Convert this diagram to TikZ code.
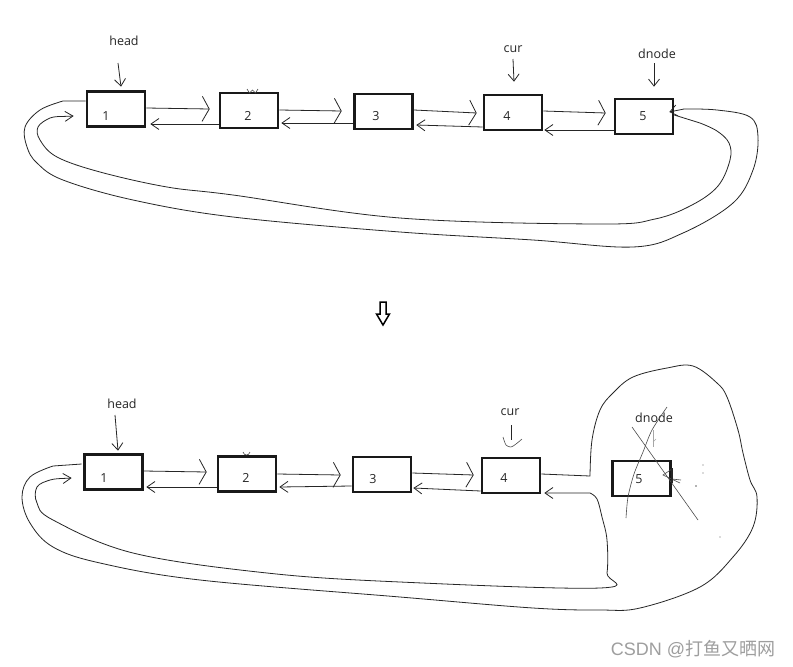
\documentclass[tikz,border=0pt]{standalone}
\usepackage{fontspec}
\setmainfont{Open Sans}
\newfontfamily\wmfont{Liberation Sans}
\newfontfamily\cjkfont{Noto Sans CJK SC}
\usetikzlibrary{arrows.meta}
\begin{document}
\begin{tikzpicture}[x=1pt,y=-1pt,
  box/.style={draw=black!90, line width=2.6pt, minimum width=58pt, minimum height=35pt, inner sep=0pt},
  lbl/.style={font=\fontsize{12.5}{14}\selectfont, text=black!85, inner sep=0pt},
  num/.style={font=\fontsize{12.5}{14}\selectfont, text=black!85, inner sep=0pt},
  ln/.style={draw=black!85, line width=0.8pt},
  fwd/.style={ln, -{Straight Barb[length=7pt,width=25pt]}},
  bwd/.style={ln, -{Straight Barb[length=8pt,width=11pt]}},
  ptr/.style={ln, -{Straight Barb[length=7pt,width=11pt]}},
  sk/.style={draw=black!70, line width=0.6pt},
]
\useasboundingbox (0,0) rectangle (793,667);
\fill[white] (0,0) rectangle (793,667);

% ================= top list =================
\node[box, label={[num,xshift=-10pt,yshift=-7pt]center:1}] (t1) at (116,109) {};
\node[box, label={[num,xshift=-1pt,yshift=-5.5pt]center:2}] (t2) at (249,110.5) {};
\node[box, label={[num,xshift=-7.5pt,yshift=-4.5pt]center:3}] (t3) at (383.5,111.5) {};
\node[box, label={[num,xshift=-6pt,yshift=-3.5pt]center:4}] (t4) at (513,112.5) {};
\node[box, label={[num,xshift=-1pt,yshift=0.5pt]center:5}] (t5) at (644,116.5) {};

\node[lbl] (th) at (124,41) {head};
\node[lbl] (tc) at (513,49) {cur};
\node[lbl] (td) at (657,54) {dnode};

\draw[ptr] ([xshift=-6pt,yshift=-22pt]th.center) -- ([xshift=5pt,yshift=3.5pt]t1.north);
\draw[ptr] ([yshift=-10pt]tc.center) -- ([xshift=1pt,yshift=12pt]t4.north);
\draw[ptr] ([xshift=-3pt,yshift=-9pt]td.center) -- ([xshift=10pt,yshift=11pt]t5.north);

% next / prev links
\draw[fwd] ([yshift=1pt]t1.east) -- ([xshift=-9pt,yshift=1.5pt]t2.west);
\draw[bwd] ([yshift=-13.5pt]t2.west) -- ([xshift=4pt,yshift=-15pt]t1.east);
\draw[fwd] ([yshift=0.5pt]t2.east) -- ([xshift=-11.5pt,yshift=0.5pt]t3.west);
\draw[bwd] ([yshift=-11.5pt]t3.west) -- ([xshift=2pt,yshift=-12.5pt]t2.east);
\draw[fwd] ([yshift=1.5pt]t3.east) -- ([xshift=-6pt,yshift=-0.5pt]t4.west);
\draw[bwd] ([yshift=-14.5pt]t4.west) -- ([xshift=2.5pt,yshift=-13.5pt]t3.east);
\draw[fwd] ([yshift=1.5pt]t4.east) -- ([xshift=-8pt,yshift=3.5pt]t5.west);
\draw[bwd] ([yshift=-13.5pt]t5.west) -- ([xshift=1pt,yshift=-17.5pt]t4.east);

% small scribble on box 2
\draw[sk] (247,89) -- (249.5,93) -- (252.5,90) -- (255.5,93) -- (258,89);

% circular links (outer: 1.prev -> 5, inner: 5.next -> 1)
\draw[ln, -{Straight Barb[length=7pt,width=11pt]}] ([yshift=8pt]t1.west) -- plot[smooth, tension=0.6] coordinates {
  (63,101) (40,110) (25,127) (27,147) (37,163) (63,180) (133,200) (233,217) (400,232)
  (533,240) (633,247) (683,233) (733,203) (753,170) (758,137) (750,117) (717,110) (684,109)}
  -- ([xshift=-5pt,yshift=4.5pt]t5.east);
\draw[ln, -{Straight Barb[length=8pt,width=10pt]}] ([yshift=1.5pt]t5.east) -- plot[smooth, tension=0.6] coordinates {
  (700,123) (717,131) (729,143) (730,160) (718,186) (692,205) (655,219) (600,224) (400,218)
  (233,195) (167,187) (100,172) (57,157) (40,140) (38,127) (50,118) (62,116.5)}
  -- ([xshift=-12pt,yshift=-7pt]t1.west);

% ================= transition arrow =================
\draw[line width=1.5pt, line join=miter] (380,302) -- (386,302) -- (386,314) -- (389.5,314)
  -- (383,325) -- (376.5,314) -- (380,314) -- cycle;

% ================= bottom list =================
\node[box, label={[num,xshift=-9.5pt,yshift=-6pt]center:1}] (b1) at (113.5,472) {};
\node[box, label={[num,xshift=-1pt,yshift=-4pt]center:2}] (b2) at (247,474) {};
\node[box, label={[num,xshift=-9pt,yshift=-4.5pt]center:3}] (b3) at (382,474.5) {};
\node[box, label={[num,xshift=-7pt,yshift=-2.5pt]center:4}] (b4) at (511,475.5) {};
\node[box, label={[num,xshift=-2.5pt,yshift=-0.5pt]center:5}] (b5) at (641.5,478.5) {};

\node[lbl] (bh) at (122,404) {head};
\node[lbl] (bc) at (510,412) {cur};
\node[lbl] (bd) at (654,418) {dnode};

\draw[ptr] ([xshift=-7pt,yshift=-11pt]bh.center) -- ([xshift=4.5pt,yshift=2.5pt]b1.north);
\draw[ln] ([xshift=1pt,yshift=-13pt]bc.center) -- ([yshift=17pt]b4.north);
\draw[sk] plot[smooth] coordinates {(503,437) (506,445) (511,447) (516,444) (522,439)};
\draw[draw=black!35, line width=0.7pt] ([xshift=-1pt,yshift=-12pt]bd.center) -- ([xshift=11.5pt,yshift=13pt]b5.north);
\draw[draw=black!35, line width=0.6pt] (653,442) -- (656,439);

\draw[fwd] ([yshift=1pt]b1.east) -- ([xshift=-10pt,yshift=2pt]b2.west);
\draw[bwd] ([yshift=-13pt]b2.west) -- ([xshift=2.5pt,yshift=-15pt]b1.east);
\draw[fwd] (b2.east) -- ([xshift=-11pt,yshift=-0.5pt]b3.west);
\draw[bwd] ([yshift=-11.5pt]b3.west) -- ([xshift=2pt,yshift=-13pt]b2.east);
\draw[fwd] ([yshift=1.5pt]b3.east) -- ([xshift=-7pt,yshift=0.5pt]b4.west);
\draw[bwd] ([yshift=-15.5pt]b4.west) -- ([xshift=1pt,yshift=-13.5pt]b3.east);

% small scribble on box 2
\draw[sk] (243,452) .. controls (244,456) and (249,456) .. (250,452);

% 4.next around the big loop back to 1
\draw[ln] ([yshift=1.5pt]b4.east) -- plot[smooth, tension=0.6] coordinates {
  (590,476) (592,440) (600,410) (613,393) (633,377) (667,368) (693,366) (717,383)
  (727,397) (738,430) (743,453) (750,480) (757,497) (753,527) (733,557) (700,587)
  (640,608) (600,610) (533,608) (400,597) (200,580) (100,563) (53,547) (30,523)
  (22,497) (30,477) (53,466)} -- ([xshift=-1.5pt,yshift=8pt]b1.west);
% 1.prev back to 4
\draw[ln, {Straight Barb[length=8pt,width=11pt]}-{Straight Barb[length=8pt,width=10pt]}]
  ([xshift=3pt,yshift=-17.5pt]b4.east) -- plot[smooth, tension=0.6] coordinates {
  (590,493) (597,499) (602,517) (607,540) (607,573) (600,588) (400,582) (267,573)
  (133,553) (53,520) (37,503) (37,487) (50,480) (62,478.5)}
  -- ([xshift=-11.5pt,yshift=-6pt]b1.west);

% crossing-out strokes on dnode
\draw[sk] plot[smooth] coordinates {(667,407) (652,430) (643,452) (634,474) (628,497) (626,518)};
\draw[sk] (632,427) -- (698,520);
\draw[sk] (672,469) -- (663,475) -- (680,483);
\draw[sk] (672,479) -- (681,480);
\draw[line width=1.4pt, black!85] (672,468) -- (672,483);
\fill[black!60] (703,465) circle (0.7) (703,473) circle (0.7) (696,486) circle (0.9)
  (738,430) circle (0.6) (720,537) circle (0.6);

% ================= watermark =================
\node[font=\fontsize{18}{20}\selectfont, text=black!38, inner sep=0pt] (wm) at (693,649)
  {\wmfont CSDN @\cjkfont 打鱼又晒网};
\end{tikzpicture}
\end{document}
